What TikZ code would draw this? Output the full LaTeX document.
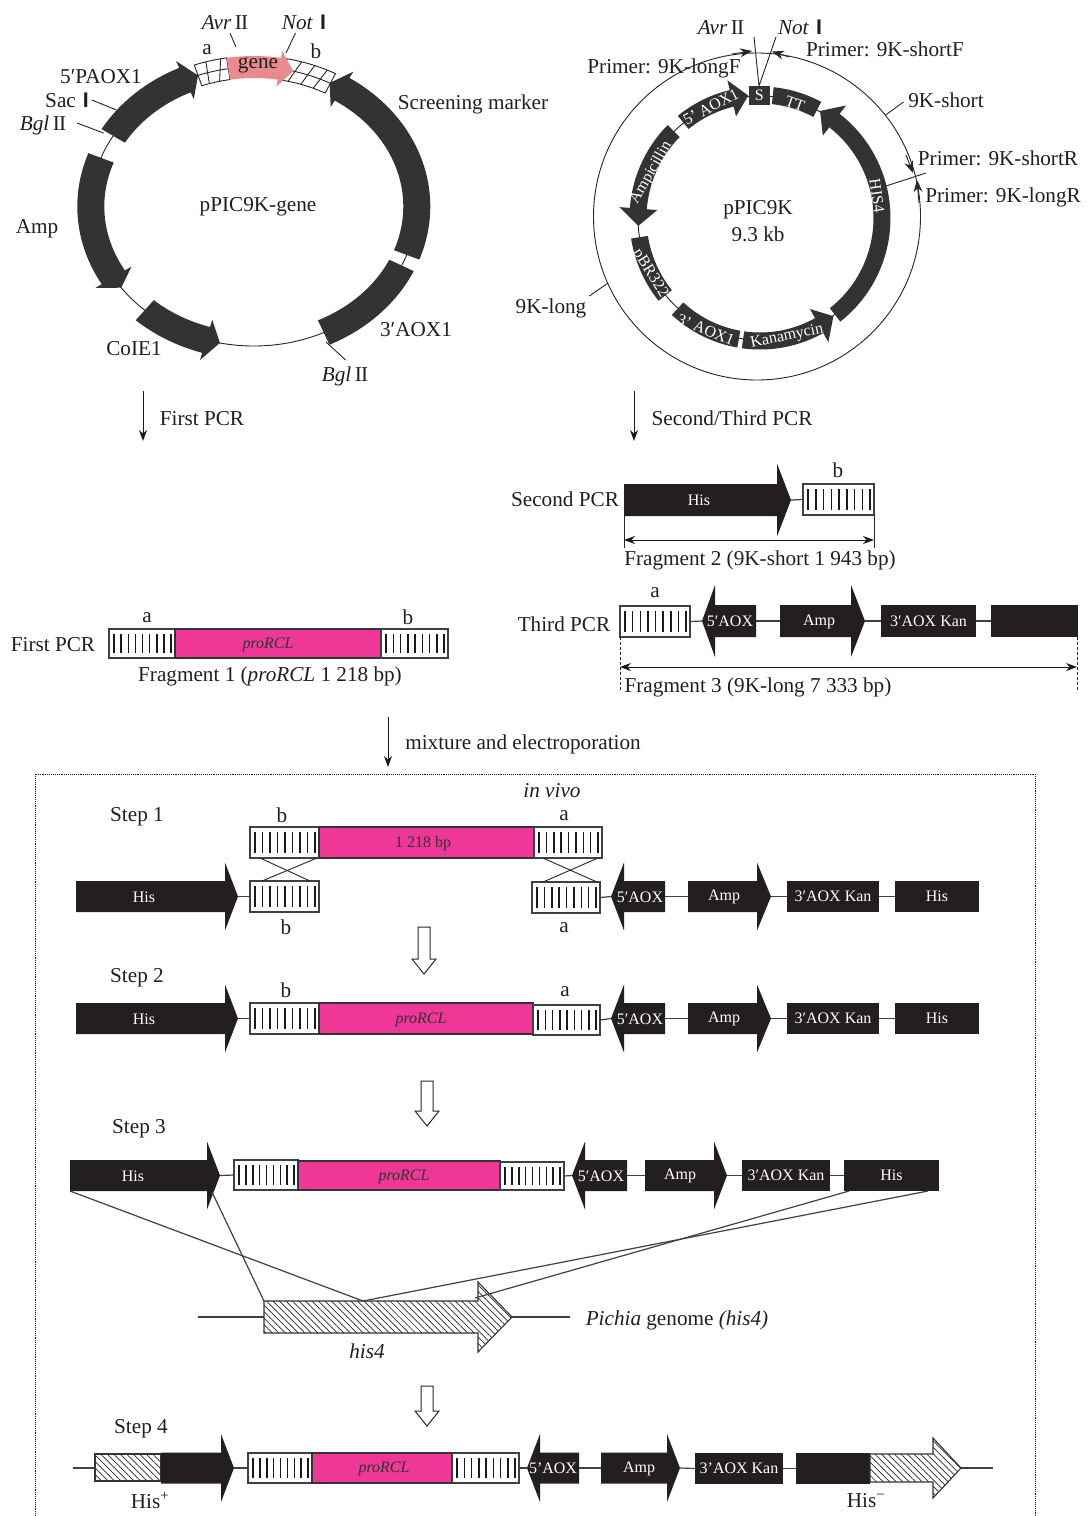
\documentclass[tikz,border=0pt]{standalone}
\usepackage{fontspec}
\setmainfont{Liberation Serif}
\newfontfamily\barfont{Liberation Sans}
\usetikzlibrary{arrows.meta,patterns.meta,shapes.geometric}
\definecolor{ringdark}{HTML}{333336}
\definecolor{trackblack}{HTML}{231F20}
\definecolor{pinkbar}{HTML}{EE3796}
\definecolor{genepink}{HTML}{E98A8E}
\newcommand\rtwo{I\kern-0.8pt I}
\newcommand\rone{{\barfont\bfseries I}}
\tikzset{
 x=1pt,y=-1pt,
 lab/.style={font=\fontsize{21.2}{24}\selectfont,inner sep=0pt,text=black!88,yshift=-1.5pt},
 inlab/.style={font=\fontsize{16}{18}\selectfont,inner sep=0pt,text=white,yshift=-0.7pt},
 pinklab/.style={font=\fontsize{16}{18}\selectfont,inner sep=0pt,text=black!80,yshift=-1pt},
 thin line/.style={line width=0.9pt,draw=black!85},
 link/.style={line width=1.2pt,draw=black!75},
 stripebox/.style={draw=black!75,fill=white,line width=1.2pt,inner sep=0pt,outer sep=0pt},
 pinkrect/.style={draw=black!80,fill=pinkbar,line width=1.2pt,inner sep=0pt,outer sep=0pt},
 blackrect/.style={fill=trackblack,inner sep=0pt,outer sep=0pt,font=\fontsize{16}{18}\selectfont,text=white},
 downarrow/.style={line width=1pt,draw=black!90,-{Stealth[length=11pt,width=8pt]}},
 barb/.style={line width=0.9pt,draw=black!85,-{Stealth[length=12pt,width=9pt]}},
 dbl/.style={line width=1pt,draw=black!90,{Stealth[length=11pt,width=8pt]}-{Stealth[length=11pt,width=8pt]}},
 hatched/.style={pattern={Lines[angle=-45,distance=4.6pt,line width=0.7pt]},pattern color=black!85,draw=black!80,line width=1.1pt},
 hollow/.style={draw=black!85,fill=white,line width=1pt},
}
\newcommand\gT[5][lab]{\node[#1] (#2) at (#3,#4) {#5};}
\newcommand\gConn[6][thin line]{\coordinate (#2-a) at (#3,#4);\coordinate (#2-b) at (#5,#6);\draw[#1] (#2-a) -- (#2-b);}
\newcommand\gStripe[5]{%
 \pgfmathsetmacro\gw{#4-#2}\pgfmathsetmacro\gh{#5-#3}%
 \node[stripebox,minimum width=\gw pt,minimum height=\gh pt] (#1) at ({(#2+#4)/2},{(#3+#5)/2}) {};
 \foreach \i in {0,...,8}{\draw[line width=1.5pt,black!90] ({#2+5+\i*(#4-#2-9)/8},{#3+5}) -- ({#2+5+\i*(#4-#2-9)/8},{#5-5});}
}
% name x1 y1 x2 y2 textx text
\newcommand\gPink[7]{%
 \pgfmathsetmacro\gw{#4-#2}\pgfmathsetmacro\gh{#5-#3}%
 \node[pinkrect,minimum width=\gw pt,minimum height=\gh pt] (#1) at ({(#2+#4)/2},{(#3+#5)/2}) {};
 \node[pinklab] (#1-t) at (#6,{(#3+#5)/2}) {#7};
}
\newcommand\gBlack[6]{%
 \pgfmathsetmacro\gw{#4-#2}\pgfmathsetmacro\gh{#5-#3}%
 \node[blackrect,minimum width=\gw pt,minimum height=\gh pt] (#1) at ({(#2+#4)/2},{(#3+#5)/2}) {#6};
}
\def\bh{15.5}\def\hh{34}
% name x0 xb xt yc textx text
\newcommand\gArrow[7]{%
 \fill[trackblack] (#2,{#5-\bh}) -- (#3,{#5-\bh}) -- (#3,{#5-\hh}) -- (#4,#5) -- (#3,{#5+\hh}) -- (#3,{#5+\bh}) -- (#2,{#5+\bh}) -- cycle;
 \coordinate (#1-tail) at (#2,#5);\coordinate (#1-tip) at (#4,#5);
 \node[inlab] (#1) at (#6,#5) {#7};
}
\newcommand\gDown[3]{%
 \draw[hollow] ({#1-6},#2) -- ({#1+6},#2) -- ({#1+6},{#3-15}) -- ({#1+12},{#3-15}) -- (#1,#3) -- ({#1-12},{#3-15}) -- ({#1-6},{#3-15}) -- cycle;
}
% ring helpers
\newcommand\gP[2]{({\Cx+(\Rx+#2)*cos(#1)},{\Cy-(\Ry+#2)*sin(#1)})}
\newcommand\gSeg[3]{%
 \fill[ringdark] plot[domain=#1:#2,samples=40,variable=\t] ({\Cx+(\Rx+#3)*cos(\t)},{\Cy-(\Ry+#3)*sin(\t)}) -- plot[domain=#2:#1,samples=40,variable=\t] ({\Cx+(\Rx-#3)*cos(\t)},{\Cy-(\Ry-#3)*sin(\t)}) -- cycle;
}
% from to tip bandhalf headhalf
\newcommand\gRA[5]{%
 \fill[ringdark] plot[domain=#1:#2,samples=40,variable=\t] ({\Cx+(\Rx+#4)*cos(\t)},{\Cy-(\Ry+#4)*sin(\t)}) -- \gP{#2}{#5} -- \gP{#3}{0} -- \gP{#2}{-#5} -- plot[domain=#2:#1,samples=40,variable=\t] ({\Cx+(\Rx-#4)*cos(\t)},{\Cy-(\Ry-#4)*sin(\t)}) -- cycle;
}
\begin{document}
\begin{tikzpicture}
\useasboundingbox (0,0) rectangle (1087,1516);
\fill[white] (0,0) rectangle (1087,1516);

%%% left plasmid
\def\Cx{253.8}\def\Cy{206.5}\def\Rx{163}\def\Ry{139.5}
\draw[thin line] (\Cx,\Cy) ellipse [x radius=163pt,y radius=139.5pt];
\gRA{-20.3}{57.2}{62.3}{13.5}{21}
\gSeg{-25}{-64.6}{13.5}
\gRA{-132}{-107}{-102}{13.5}{21}
\gRA{159.6}{210.5}{215.6}{13.5}{21}
\gRA{149.6}{115}{110}{13.5}{21}
% hatched a
\draw[fill=white,line width=0.9pt,draw=black!85] plot[domain=110:99,samples=12,variable=\t] ({\Cx+(\Rx+11)*cos(\t)},{\Cy-(\Ry+11)*sin(\t)}) -- plot[domain=99:110,samples=12,variable=\t] ({\Cx+(\Rx-11)*cos(\t)},{\Cy-(\Ry-11)*sin(\t)}) -- cycle;
\draw[thin line] plot[domain=110:99,samples=12,variable=\t] ({\Cx+\Rx*cos(\t)},{\Cy-\Ry*sin(\t)});
\draw[thin line] \gP{106}{11} -- \gP{107}{-11};
\draw[thin line] \gP{101}{11} -- \gP{103}{-11};
% hatched b
\draw[fill=white,line width=0.9pt,draw=black!85] plot[domain=79:62,samples=12,variable=\t] ({\Cx+(\Rx+11)*cos(\t)},{\Cy-(\Ry+11)*sin(\t)}) -- plot[domain=62:79,samples=12,variable=\t] ({\Cx+(\Rx-11)*cos(\t)},{\Cy-(\Ry-11)*sin(\t)}) -- cycle;
\draw[thin line] plot[domain=79:62,samples=12,variable=\t] ({\Cx+\Rx*cos(\t)},{\Cy-\Ry*sin(\t)});
\draw[thin line] \gP{74}{11} -- \gP{77}{-11};
\draw[thin line] \gP{69.5}{11} -- \gP{72}{-11};
\draw[thin line] \gP{65}{11} -- \gP{67}{-11};
% gene
\fill[genepink] plot[domain=99:81,samples=15,variable=\t] ({\Cx+(\Rx+11)*cos(\t)},{\Cy-(\Ry+11)*sin(\t)}) -- \gP{81}{18} -- \gP{76}{0} -- \gP{81}{-18} -- plot[domain=81:99,samples=15,variable=\t] ({\Cx+(\Rx-11)*cos(\t)},{\Cy-(\Ry-11)*sin(\t)}) -- cycle;
\gT{ggene}{258}{64}{gene}
\gT{lpAvr}{225}{21}{\textit{Avr}\,\rtwo}
\gT{lpNot}{304}{21}{\textit{Not}\,\,\rone}
\gT{lpa}{207}{48}{a}
\gT{lpb}{316}{50}{b}
\gT{l5p}{101}{75}{5′PAOX1}
\gT{lSac}{67}{99}{Sac\,\,\rone}
\gT{lBgl}{43}{124}{\textit{Bgl}\,\rtwo}
\gT{lScr}{473}{103}{Screening marker}
\gT{lname}{258}{205}{pPIC9K-gene}
\gT{lAmp}{37}{227}{Amp}
\gT{lCol}{134}{347}{CoIE1}
\gT{l3p}{416}{328}{3′AOX1}
\gT{lBgl2}{345}{375}{\textit{Bgl}\,\rtwo}
\gConn{ll1}{230}{33}{236}{47}
\gConn{ll2}{295.5}{33}{286}{53}
\gConn{ll3}{92}{100}{116.5}{110}
\gConn{ll4}{77}{123}{103.5}{133}
\gConn{ll5}{326}{342}{345.6}{360}

%%% right plasmid
\draw[thin line] (757,216.5) circle [radius=163.5pt];
\def\Cx{760}\def\Cy{218}\def\Rx{122}\def\Ry{123}
\draw[thin line] (\Cx,\Cy) circle [radius=122pt];
\def\bw{8.5}
\gSeg{84}{62}{\bw}
\gRA{-52}{52.4}{60.5}{\bw}{19}
\gRA{-98}{-61}{-53}{\bw}{19}
\gSeg{-132.5}{-100}{\bw}
\gSeg{189}{219}{\bw}
\gRA{135}{175.6}{183.7}{\bw}{19}
\gRA{129}{103.4}{95.5}{\bw}{18.5}
\node[blackrect,fill=ringdark,minimum width=21.5pt,minimum height=19pt] (rS) at (759.3,95.5) {S};
\node[inlab,rotate=28] (r5) at (711,106) {5' AOX1};
\node[inlab,rotate=-20] (rTT) at (795,103) {TT};
\node[inlab,rotate=-82] (rHIS) at (877,195) {HIS4};
\node[inlab,rotate=12] (rKan) at (787,336) {Kanamycin};
\node[inlab,rotate=-22] (r3) at (706,329) {3' AOX1};
\node[inlab,rotate=-58] (rpBR) at (650,273) {pBR322};
\node[inlab,rotate=60] (rAmp) at (651,172) {Ampicillin};
\gT{rAvr}{721}{26}{\textit{Avr}\,\rtwo}
\gT{rNot}{800}{26}{\textit{Not}\,\,\rone}
\gT{rSF}{885}{48}{Primer: 9K-shortF}
\gT{rLF}{664}{67}{Primer: 9K-longF}
\gT{rs}{946}{99}{9K-short}
\gT{rSR}{998}{157}{Primer: 9K-shortR}
\gT{rLR}{1003}{196}{Primer: 9K-longR}
\gT{rn1}{758}{208.5}{pPIC9K}
\gT{rn2}{758}{232.5}{9.3 kb}
\gT{rl}{551}{307}{9K-long}
\coordinate (Stop) at (759,86);
\coordinate (rA1) at (754,37);\coordinate (rN1) at (776,37);
\draw[thin line] (rA1) -- (Stop) -- (rN1);
\gConn[barb]{p1}{732}{54}{752}{51}
\gConn[barb]{p2}{789}{57}{772}{51.5}
\gConn[barb]{p3}{906}{155}{913}{173}
\gConn[barb]{p4}{919}{203}{917}{180}
\gConn{tick}{886}{186}{926}{173}
\gConn{l9s}{885.6}{115}{903.5}{102}
\gConn{l9l}{589.4}{296}{608}{283}

%%% first-row arrows
\gConn[downarrow]{d1}{143}{391}{143}{441}
\gT{dt1}{202}{417}{First PCR}
\gConn[downarrow]{d2}{634}{391}{634}{441}
\gT{dt2}{732}{417}{Second/Third PCR}

%%% First PCR fragment
\gT{fp}{53}{643}{First PCR}
\gStripe{f1a}{109}{629}{175}{658}
\gPink{f1p}{175}{629}{381}{658}{268}{\textit{proRCL}}
\gStripe{f1b}{381}{629}{448}{658}
\gT{f1ta}{147}{616}{a}
\gT{f1tb}{408}{616}{b}
\gT{f1t}{270}{675}{Fragment 1 (\textit{proRCL} 1 218 bp)}

%%% Second PCR
\gT{sp}{565}{497.5}{Second PCR}
\def\bh{16}\def\hh{36.5}
\gArrow{s2h}{624}{777}{791}{500}{699}{His}
\gStripe{s2b}{803}{484}{874}{515}
\draw[link] (s2h-tip) -- (s2b.west);
\gT{s2tb}{838}{469}{b}
\gConn{s2v1}{624}{516}{624}{548}
\gConn{s2v2}{874}{515}{874}{548}
\gConn[dbl]{s2d}{624}{540}{874}{540}
\gT{s2t}{760}{559}{Fragment 2 (9K-short 1 943 bp)}

%%% Third PCR
\gT{tp}{564}{622.5}{Third PCR}
\def\hh{36}
\gStripe{t3a}{620}{606}{690}{637}
\gArrow{t3l}{756}{715}{702}{621}{730}{5′AOX}
\gArrow{t3m}{780}{851}{865}{621}{819}{Amp}
\gBlack{t3k}{881}{605}{976}{637}{3′AOX Kan}
\gBlack{t3e}{991}{605}{1078}{637}{}
\draw[link] (t3a.east) -- (t3l-tip);
\draw[link] (t3l-tail) -- (t3m-tail);
\draw[link] (t3m-tip) -- (t3k.west);
\draw[link] (t3k.east) -- (t3e.west);
\gT{t3ta}{655}{591}{a}
\gConn[thin line,densely dashed]{t3v1}{620}{637}{620}{692}
\gConn[thin line,densely dashed]{t3v2}{1077}{637}{1077}{692}
\gConn[dbl]{t3d}{620}{667}{1077}{667}
\gT{t3t}{758}{686}{Fragment 3 (9K-long 7 333 bp)}

\gConn[downarrow]{d3}{388}{717}{388}{767}
\gT{dt3}{523}{743}{mixture and electroporation}

%%% frame
\coordinate (fr1) at (35,1516);\coordinate (fr2) at (35,774);\coordinate (fr3) at (1035,774);\coordinate (fr4) at (1035,1516);
\draw[line width=0.9pt,densely dotted,black!90] (fr1) -- (fr2) -- (fr3) -- (fr4);
\gT{iv}{552}{789}{\textit{in vivo}}

%%% Step 1
\def\bh{15.5}\def\hh{34}
\gT{st1}{137}{815}{Step 1}
\gArrow{a1h}{76}{225}{238}{896.5}{144}{His}
\gStripe{a1b}{250}{881}{319}{912}
\gStripe{u1b}{250}{827}{319}{858}
\gPink{u1p}{319}{827}{534}{858}{423}{1 218 bp}
\gStripe{u1a}{534}{827}{602}{858}
\gStripe{a1a}{532}{882}{600}{913}
\gArrow{a1l}{665}{624}{611}{896.5}{640}{5′AOX}
\gArrow{a1m}{688}{757}{771}{896.5}{724}{Amp}
\gBlack{a1k}{787}{881}{879}{912}{3′AOX Kan}
\gBlack{a1e}{895}{881}{979}{912}{His}
\draw[link] (a1h-tip) -- (a1b.west);
\draw[link] (a1a.east) -- (a1l-tip);
\draw[link] (a1l-tail) -- (a1m-tail);
\draw[link] (a1m-tip) -- (a1k.west);
\draw[link] (a1k.east) -- (a1e.west);
\gConn{x1}{260}{858}{310}{881}
\gConn{x2}{317}{858}{262}{881}
\gConn{x3}{543}{858}{597}{882}
\gConn{x4}{598}{858}{543}{882}
\gT{a1t1}{282}{814}{b}
\gT{a1t2}{564}{814}{a}
\gT{a1t3}{286}{926}{b}
\gT{a1t4}{564}{926}{a}
\gDown{424}{927}{974}

%%% Step 2
\gT{st2}{137}{976}{Step 2}
\gArrow{a2h}{76}{225}{238}{1018.5}{144}{His}
\gStripe{a2b}{250}{1003}{319}{1034}
\gPink{a2p}{319}{1003}{533}{1034}{421}{\textit{proRCL}}
\gStripe{a2a}{533}{1005}{600}{1035}
\gArrow{a2l}{665}{624}{611}{1018.5}{640}{5′AOX}
\gArrow{a2m}{688}{757}{771}{1018.5}{724}{Amp}
\gBlack{a2k}{787}{1003}{879}{1034}{3′AOX Kan}
\gBlack{a2e}{895}{1003}{979}{1034}{His}
\draw[link] (a2h-tip) -- (a2b.west);
\draw[link] (a2a.east) -- (a2l-tip);
\draw[link] (a2l-tail) -- (a2m-tail);
\draw[link] (a2m-tip) -- (a2k.west);
\draw[link] (a2k.east) -- (a2e.west);
\gT{a2t1}{286}{989}{b}
\gT{a2t2}{565}{990}{a}
\gDown{427}{1081}{1126}

%%% Step 3
\gT{st3}{139}{1127}{Step 3}
\gArrow{a3h}{70}{207}{220}{1175.5}{133}{His}
\gStripe{a3b}{234}{1160}{298}{1190}
\gPink{a3p}{298}{1161}{500}{1190}{404}{\textit{proRCL}}
\gStripe{a3a}{500}{1162}{564}{1190}
\gArrow{a3l}{627}{585}{572}{1175.5}{601}{5′AOX}
\gArrow{a3m}{645}{714}{727}{1175.5}{680}{Amp}
\gBlack{a3k}{742}{1160}{830}{1191}{3′AOX Kan}
\gBlack{a3e}{844}{1160}{939}{1191}{His}
\draw[link] (a3h-tip) -- (a3b.west);
\draw[link] (a3a.east) -- (a3l-tip);
\draw[link] (a3l-tail) -- (a3m-tail);
\draw[link] (a3m-tip) -- (a3k.west);
\draw[link] (a3k.east) -- (a3e.west);

%%% his4
\gConn[link]{g1}{198}{1317}{264}{1317}
\gConn[link]{g2}{512}{1317}{570}{1317}
\draw[hatched] (264,1301) -- (478,1301) -- (478,1282) -- (512,1317) -- (478,1352) -- (478,1333) -- (264,1333) -- cycle;
\gT{ghis}{367}{1350}{\textit{his4}}
\gT{gpi}{677}{1319}{\textit{Pichia} genome \textit{(his4)}}
\gConn[link]{m1}{70}{1191}{363}{1301}
\gConn[link]{m2}{212}{1192}{264}{1301}
\gConn[link]{m3}{849}{1191}{475}{1298}
\gConn[link]{m4}{928}{1191}{363}{1301}
\gDown{427}{1386}{1426}

%%% Step 4
\gT{st4}{141}{1427}{Step 4}
\coordinate (b4l) at (73,1468);\coordinate (b4r) at (993,1468);
\coordinate (h4l) at (95,1468);\coordinate (h4r) at (961,1468);
\draw[link] (b4l) -- (h4l);
\draw[link] (h4r) -- (b4r);
\draw[hatched] (95,1454) rectangle (161,1481);
\gArrow{a4h}{161}{221}{234}{1468}{190}{}
\gStripe{a4b}{248}{1453}{312}{1483}
\gPink{a4p}{312}{1453}{452}{1483}{384}{\textit{proRCL}}
\gStripe{a4a}{452}{1453}{519}{1483}
\gArrow{a4l}{579}{540}{527}{1468}{553}{5’AOX}
\gArrow{a4m}{601}{667}{680}{1468}{639}{Amp}
\gBlack{a4k}{695}{1453}{783}{1484}{3’AOX Kan}
\gBlack{a4e}{796}{1453}{870}{1484}{}
\draw[hatched] (870,1454) -- (933,1454) -- (933,1438) -- (961,1468) -- (933,1498) -- (933,1482) -- (870,1482) -- cycle;
\draw[link] (a4h-tip) -- (a4b.west);
\draw[link] (a4a.east) -- (a4l-tip);
\draw[link] (a4l-tail) -- (a4m-tail);
\draw[link] (a4m-tip) -- (a4k.west);
\draw[link] (a4k.east) -- (a4e.west);
\gT{a4t1}{150}{1499}{His\textsuperscript{+}}
\gT{a4t2}{866}{1499}{His\textsuperscript{−}}
\end{tikzpicture}
\end{document}
